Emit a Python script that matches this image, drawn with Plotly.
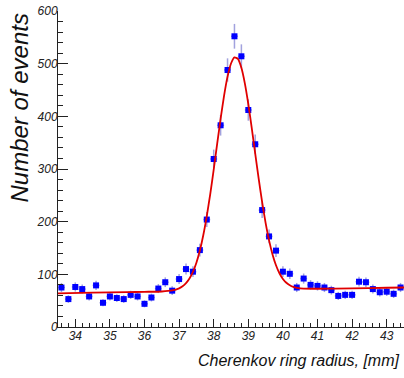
import numpy as np
import plotly.graph_objects as go

# Bin centers [mm]
radius = [33.6, 33.8, 34.0, 34.2, 34.4, 34.6, 34.8, 35.0, 35.2, 35.4,
          35.6, 35.8, 36.0, 36.2, 36.4, 36.6, 36.8, 37.0, 37.2, 37.4,
          37.6, 37.8, 38.0, 38.2, 38.4, 38.6, 38.8, 39.0, 39.2, 39.4,
          39.6, 39.8, 40.0, 40.2, 40.4, 40.6, 40.8, 41.0, 41.2, 41.4,
          41.6, 41.8, 42.0, 42.2, 42.4, 42.6, 42.8, 43.0, 43.2, 43.4]
# Number of events per bin
events = [75, 53, 76, 72, 58, 79, 46, 58, 55, 53,
          61, 58, 44, 56, 73, 85, 69, 91, 110, 105,
          146, 204, 319, 383, 488, 552, 514, 412, 347, 222,
          172, 145, 105, 101, 75, 92, 80, 78, 75, 70,
          59, 61, 61, 86, 85, 72, 66, 67, 63, 75]
# Fit curve samples
fit_x = [33.5, 34.5, 35.5, 36.0, 36.5, 36.8, 37.0, 37.1, 37.2, 37.3, 37.4,
         37.5, 37.6, 37.7, 37.8, 37.9, 38.0, 38.1, 38.2, 38.3, 38.4, 38.5,
         38.6, 38.7, 38.8, 38.9, 39.0, 39.1, 39.2, 39.3, 39.4, 39.5, 39.6,
         39.7, 39.8, 39.9, 40.0, 40.1, 40.2, 40.3, 40.4, 40.6, 41.0, 42.0,
         43.0, 43.5]
fit_y = [64.0, 65.1, 66.2, 66.8, 67.4, 69.4, 73.4, 77.2, 83.2, 92.0, 104.6,
         122.0, 145.2, 174.7, 210.6, 252.4, 298.9, 347.6, 395.5, 439.3, 475.3, 500.3,
         511.9, 509.1, 492.2, 462.7, 423.4, 377.7, 329.2, 281.5, 236.9, 197.6, 164.4,
         137.8, 117.2, 102.1, 91.3, 84.0, 79.2, 76.0, 74.3, 72.8, 72.6, 73.4,
         74.5, 75.0]

errors = np.sqrt(np.array(events, dtype=float))

fig = go.Figure()
fig.add_trace(go.Scatter(
    x=radius, y=events, mode="markers",
    marker=dict(symbol="square", size=6, color="#0000ff", line=dict(width=0)),
    error_y=dict(type="data", array=errors, color="rgba(100,100,200,0.6)", thickness=1.5, width=0),
    error_x=dict(type="constant", value=0.1, color="rgba(100,100,200,0.6)", thickness=1.5, width=0),
    showlegend=False,
))
fig.add_trace(go.Scatter(
    x=fit_x, y=fit_y, mode="lines",
    line=dict(color="#e00000", width=1.8, shape="spline", smoothing=0.6),
    showlegend=False,
))

tickfont = dict(family="Liberation Sans, Arial", size=12, color="#222", style="italic")

fig.update_layout(
    width=404, height=378,
    margin=dict(l=58, r=0, t=11, b=51),
    paper_bgcolor="white", plot_bgcolor="white",
    xaxis=dict(range=[33.5, 43.5], tick0=34, dtick=1, ticks="inside", ticklen=8,
               tickcolor="#222", tickwidth=1, showline=True, linecolor="#222", linewidth=1,
               showgrid=False, zeroline=False, tickfont=tickfont, ticklabelstandoff=-2,
               automargin=False,
               minor=dict(dtick=0.2, ticks="inside", ticklen=4, tickcolor="#222", showgrid=False)),
    yaxis=dict(range=[0, 600], tick0=0, dtick=100, ticks="inside", ticklen=10,
               tickcolor="#222", tickwidth=1, showline=True, linecolor="#222", linewidth=1,
               showgrid=False, zeroline=False, tickfont=tickfont, ticklabelstandoff=-3,
               automargin=False,
               minor=dict(dtick=20, ticks="inside", ticklen=5, tickcolor="#222", showgrid=False)),
    annotations=[
        dict(text="Number of events", textangle=-90, xref="paper", yref="paper",
             x=(19 - 58) / 346, y=(327 - 12) / 316, xanchor="center", yanchor="top",
             showarrow=False,
             font=dict(family="Liberation Sans, Arial", size=24, color="#111", style="italic")),
        dict(text="Cherenkov ring radius, [mm]", xref="paper", yref="paper",
             x=(402 - 58) / 346, y=(327 - 360) / 316, xanchor="right", yanchor="middle",
             showarrow=False,
             font=dict(family="Liberation Sans, Arial", size=16, color="#111", style="italic")),
    ],
)

fig.write_html("out.html", config={"displayModeBar": False},
               post_script="document.body.style.margin='0';document.body.style.padding='0';")
